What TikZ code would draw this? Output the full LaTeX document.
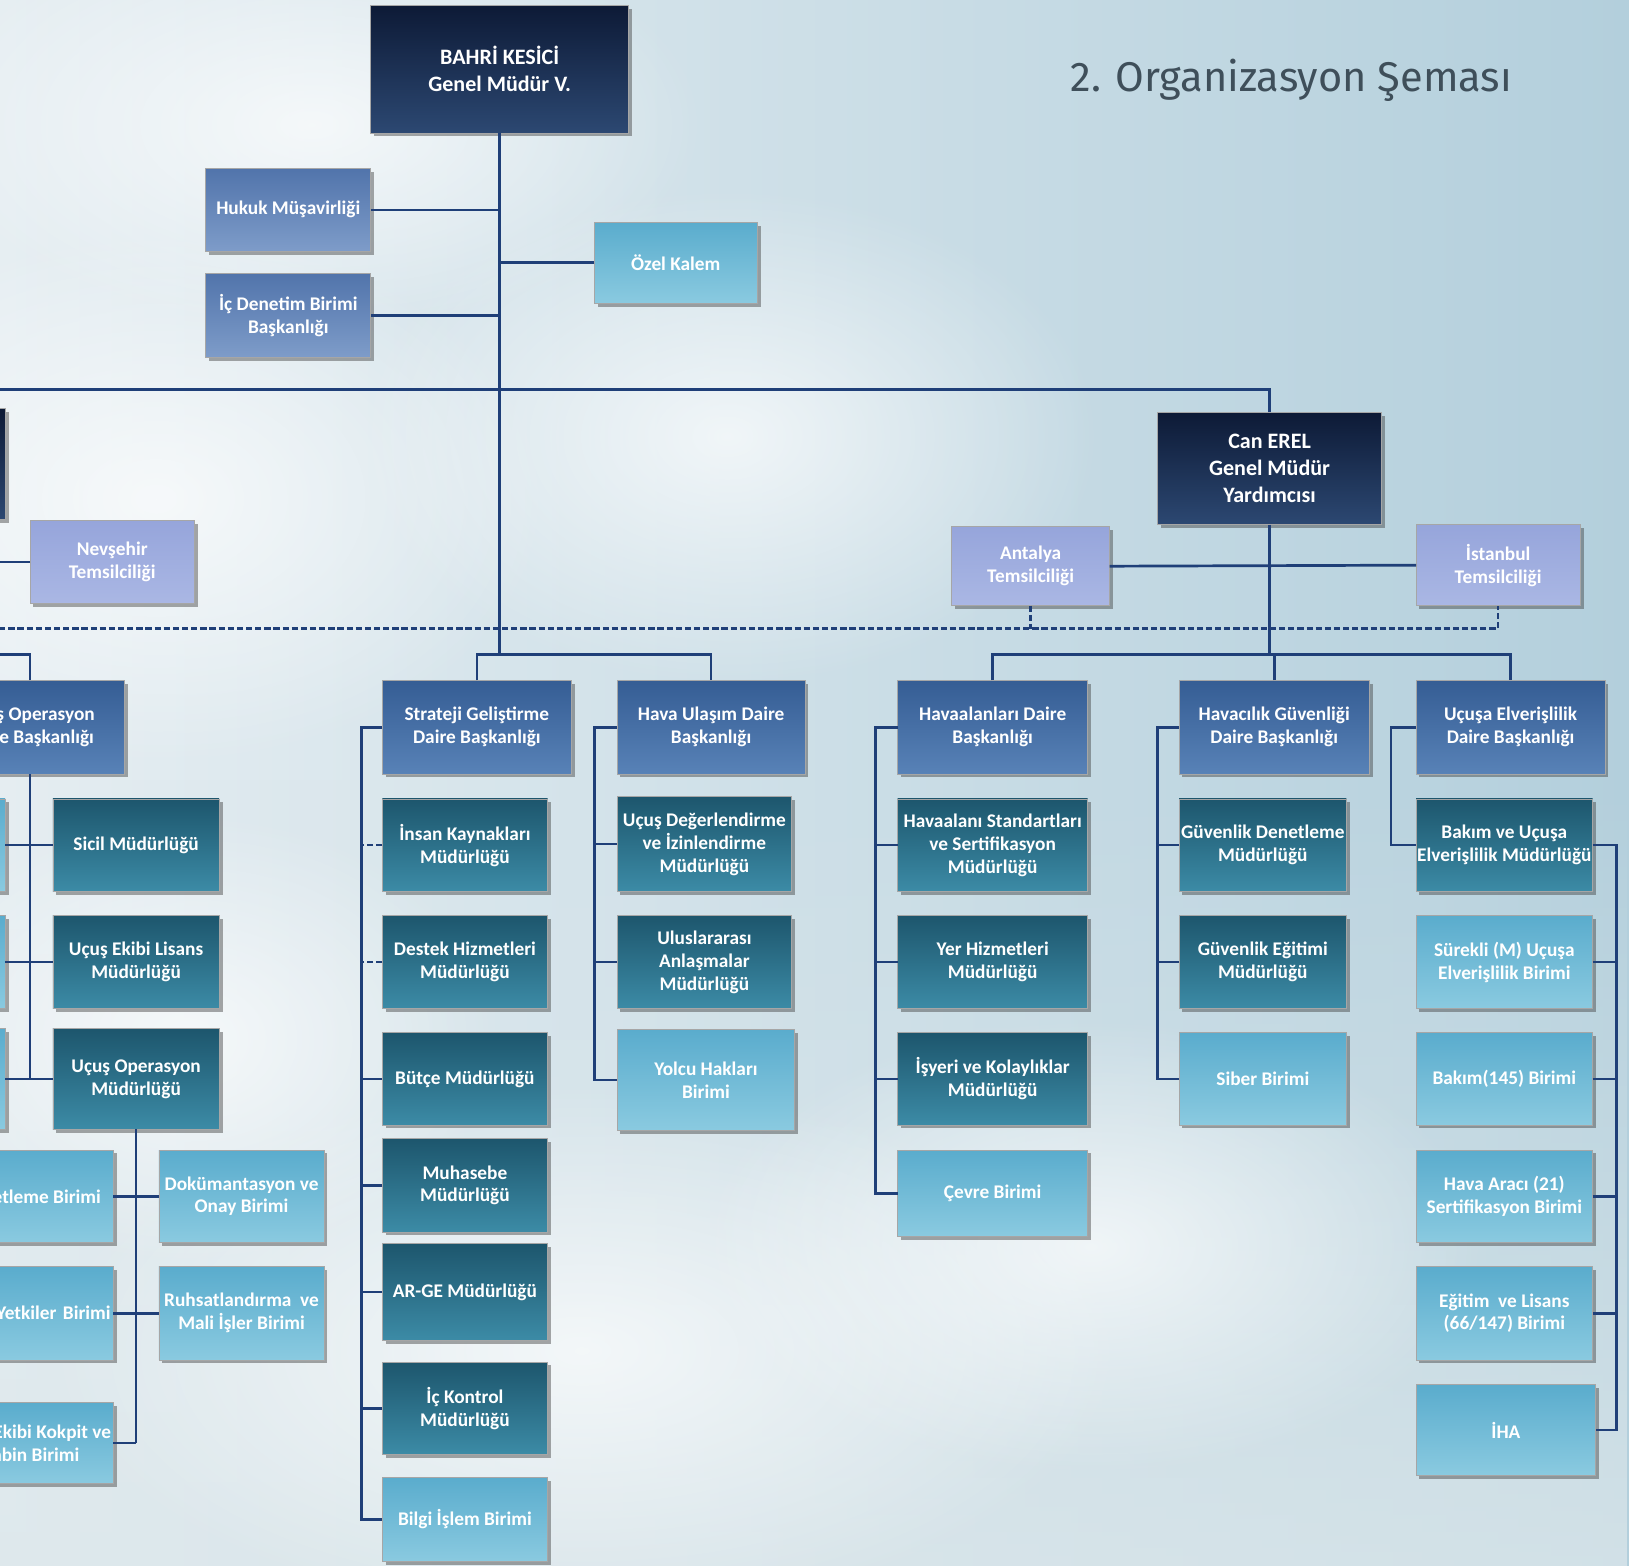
\documentclass[tikz,border=0pt]{standalone}
\usepackage{fontspec}
\setmainfont{Carlito}
\newfontfamily\titlefont{Fira Sans}
\usetikzlibrary{shadows,fadings}

\definecolor{lineblue}{HTML}{1F3F78}
\definecolor{navyT}{HTML}{0D1A36}
\definecolor{navyB}{HTML}{2C4872}
\definecolor{daireT}{HTML}{355D94}
\definecolor{daireB}{HTML}{5882B7}
\definecolor{hukT}{HTML}{5174AB}
\definecolor{hukB}{HTML}{7E9CC9}
\definecolor{mudT}{HTML}{1D566D}
\definecolor{mudB}{HTML}{3C8BA6}
\definecolor{birT}{HTML}{5AACCD}
\definecolor{birB}{HTML}{8ACAE0}
\definecolor{temT}{HTML}{96A5DB}
\definecolor{temB}{HTML}{AAB7E4}
\definecolor{bgPale}{HTML}{E6EEF2}
\definecolor{bgBlue}{HTML}{B3CFDC}
\definecolor{bgLow}{HTML}{DCE7EB}
\definecolor{titlegray}{HTML}{3F4F5A}

\tikzfading[name=softblob, inner color=transparent!0, outer color=transparent!100]
\tikzfading[name=fadeup, top color=transparent!100, bottom color=transparent!25]

\tikzset{
  basebox/.style={inner sep=0pt, outer sep=0pt, align=center, text=white,
    font=\bfseries\fontsize{9.3}{11}\selectfont, draw=black!35, line width=0.4pt,
    drop shadow={shadow xshift=1.6pt, shadow yshift=-1.6pt, opacity=0.45, fill=black!75}},
  navybox/.style={basebox, top color=navyT, bottom color=navyB, font=\bfseries\fontsize{10.6}{13}\selectfont},
  dairebox/.style={basebox, top color=daireT, bottom color=daireB},
  hukbox/.style={basebox, top color=hukT, bottom color=hukB},
  mudbox/.style={basebox, top color=mudT, bottom color=mudB},
  birbox/.style={basebox, top color=birT, bottom color=birB},
  tembox/.style={basebox, top color=temT, bottom color=temB},
  conn/.style={draw=lineblue, line width=1.3pt},
  dotconn/.style={draw=lineblue, line width=1.2pt, dash pattern=on 3pt off 1.4pt},
  cloudblob/.style={white, opacity=0.7, path fading=softblob}
}

% #1 style, #2 name, #3 x1, #4 y1, #5 x2, #6 y2, #7 text
\newcommand\orgbox[7]{%
  \node[#1, minimum width={((#5)-(#3))*0.5pt}, minimum height={((#6)-(#4))*0.5pt}]
    (#2) at ({((#3)+(#5))/2},{((#4)+(#6))/2}) {#7};}

\begin{document}
\begin{tikzpicture}[x=0.5pt,y=-0.5pt]
\useasboundingbox (0,0) rectangle (1568,1507);
% background sky
\fill[left color=bgPale, right color=bgBlue] (0,0) rectangle (1568,1507);
\fill[bgLow, path fading=fadeup] (0,750) rectangle (1568,1507);
\fill[cloudblob] (150,480) ellipse (380 and 260);
\fill[cloudblob] (700,420) ellipse (360 and 240);
\fill[cloudblob] (560,1300) ellipse (520 and 260);
\fill[cloudblob] (1050,1200) ellipse (380 and 220);
\fill[cloudblob] (180,1000) ellipse (300 and 220);
\fill[cloudblob] (300,120) ellipse (380 and 200);

% title
\node[anchor=base west, inner sep=0pt, text=titlegray, font=\titlefont\fontsize{20}{20}\selectfont] (title) at (1030,88) {2. Organizasyon Şeması};

% top level
\orgbox{navybox}{top}{357}{5}{605}{128}{BAHRİ KESİCİ\\Genel Müdür V.}
\orgbox{hukbox}{hukuk}{198}{162}{357}{242}{Hukuk Müşavirliği}
\orgbox{hukbox}{icden}{198}{263}{357}{344}{İç Denetim Birimi\\Başkanlığı}
\orgbox{birbox}{ozel}{572}{214}{729}{292}{Özel Kalem}

\orgbox{navybox}{gmyl}{-150}{393}{5}{500}{}
\orgbox{tembox}{nev}{29}{501}{187}{581}{Nevşehir\\Temsilciliği}
\orgbox{navybox}{can}{1114}{397}{1330}{505}{Can EREL\\Genel Müdür\\Yardımcısı}
\orgbox{tembox}{ant}{916}{507}{1068}{583}{Antalya\\Temsilciliği}
\orgbox{tembox}{ist}{1363}{505}{1521}{583}{İstanbul\\Temsilciliği}

% daire baskanliklari
\orgbox{dairebox}{uodb}{-62}{655}{120}{745}{Uçuş Operasyon\\Daire Başkanlığı}
\orgbox{dairebox}{strat}{368}{655}{550}{745}{Strateji Geliştirme\\Daire Başkanlığı}
\orgbox{dairebox}{hua}{594}{655}{775}{745}{Hava Ulaşım Daire\\Başkanlığı}
\orgbox{dairebox}{hvl}{864}{655}{1047}{745}{Havaalanları Daire\\Başkanlığı}
\orgbox{dairebox}{hvg}{1135}{655}{1318}{745}{Havacılık Güvenliği\\Daire Başkanlığı}
\orgbox{dairebox}{ue}{1363}{655}{1545}{745}{Uçuşa Elverişlilik\\Daire Başkanlığı}

% left column
\orgbox{birbox}{lpa}{-150}{769}{5}{858}{}
\orgbox{birbox}{lpb}{-150}{881}{5}{971}{}
\orgbox{birbox}{lpc}{-150}{990}{5}{1087}{}
\orgbox{mudbox}{sicil}{51}{769}{211}{858}{Sicil Müdürlüğü}
\orgbox{mudbox}{uel}{51}{881}{211}{971}{Uçuş Ekibi Lisans\\Müdürlüğü}
\orgbox{mudbox}{uom}{51}{990}{211}{1087}{Uçuş Operasyon\\Müdürlüğü}
\orgbox{birbox}{den}{-50}{1107}{109}{1196}{Denetleme Birimi}
\orgbox{birbox, text width=77pt, align=right}{yet}{-50}{1219}{109}{1309}{Yetkiler Birimi}
\orgbox{birbox}{kok}{-50}{1350}{109}{1428}{Uçuş Ekibi Kokpit ve\\Kabin Birimi}
\orgbox{birbox}{dok}{153}{1107}{312}{1196}{Dokümantasyon ve\\Onay Birimi}
\orgbox{birbox}{ruh}{153}{1219}{312}{1309}{Ruhsatlandırma\ \ ve\\Mali İşler Birimi}

% strateji column
\orgbox{mudbox}{ik}{368}{769}{527}{858}{İnsan Kaynakları\\Müdürlüğü}
\orgbox{mudbox}{dh}{368}{881}{527}{971}{Destek Hizmetleri\\Müdürlüğü}
\orgbox{mudbox}{bt}{368}{994}{527}{1083}{Bütçe Müdürlüğü}
\orgbox{mudbox}{mh}{368}{1096}{527}{1186}{Muhasebe\\Müdürlüğü}
\orgbox{mudbox}{ar}{368}{1197}{527}{1290}{AR-GE Müdürlüğü}
\orgbox{mudbox}{ick}{368}{1311}{527}{1400}{İç Kontrol\\Müdürlüğü}
\orgbox{birbox}{bi}{368}{1422}{527}{1503}{Bilgi İşlem Birimi}

% hava ulasim column
\orgbox{mudbox}{ud}{594}{767}{762}{858}{Uçuş Değerlendirme\\ve İzinlendirme\\Müdürlüğü}
\orgbox{mudbox}{ua}{594}{881}{762}{971}{Uluslararası\\Anlaşmalar\\Müdürlüğü}
\orgbox{birbox}{yh}{594}{991}{765}{1088}{Yolcu Hakları\\Birimi}

% havaalanlari column
\orgbox{mudbox}{hs}{864}{769}{1047}{858}{Havaalanı Standartları\\ve Sertifikasyon\\Müdürlüğü}
\orgbox{mudbox}{yhz}{864}{881}{1047}{971}{Yer Hizmetleri\\Müdürlüğü}
\orgbox{mudbox}{isk}{864}{994}{1047}{1083}{İşyeri ve Kolaylıklar\\Müdürlüğü}
\orgbox{birbox}{cv}{864}{1107}{1047}{1190}{Çevre Birimi}

% havacilik guvenligi column
\orgbox{mudbox}{gd}{1135}{769}{1296}{858}{Güvenlik Denetleme\\Müdürlüğü}
\orgbox{mudbox}{ge}{1135}{881}{1296}{971}{Güvenlik Eğitimi\\Müdürlüğü}
\orgbox{birbox}{sb}{1135}{994}{1296}{1083}{Siber Birimi}

% ucusa elverislilik column
\orgbox{mudbox}{bk}{1363}{769}{1533}{858}{Bakım ve Uçuşa\\Elverişlilik Müdürlüğü}
\orgbox{birbox}{sr}{1363}{881}{1533}{971}{Sürekli (M) Uçuşa\\Elverişlilik Birimi}
\orgbox{birbox}{bq}{1363}{994}{1533}{1083}{Bakım(145) Birimi}
\orgbox{birbox}{ha}{1363}{1107}{1533}{1196}{Hava Aracı (21)\\Sertifikasyon Birimi}
\orgbox{birbox}{egl}{1363}{1219}{1533}{1309}{Eğitim\ \ ve Lisans\\(66/147) Birimi}
\orgbox{birbox}{iha}{1363}{1333}{1536}{1420}{İHA}

% helper coordinates
\coordinate (b2) at (481,630);
\coordinate (b3) at (1222,630);
\coordinate (lbus) at (-80,630);
\coordinate (dotL) at (-80,605);
\coordinate (sx) at (348,0);
\coordinate (hx) at (572,0);
\coordinate (ax) at (843,0);
\coordinate (gx) at (1114,0);
\coordinate (ex) at (1339,0);
\coordinate (rx) at (1556,0);

% connectors: top
\draw[conn] (top.south) -- (b2);
\draw[conn] (hukuk.east) -- (hukuk.east -| top.south);
\draw[conn] (icden.east) -- (icden.east -| top.south);
\draw[conn] (ozel.west) -- (ozel.west -| top.south);
\draw[conn] (can.north) -- ++(0,-22) -| (gmyl.north);
\draw[conn] (nev.west) -- (nev.west -| gmyl.south);
\draw[conn] (can.south) -- (b3);
\draw[conn] (ant.east) -- (ist.west);
\draw[dotconn] (dotL) -| (ist.south);
\draw[dotconn] (ant.south) -- (ant.south |- dotL);

% level 2 buses
\draw[conn] (strat.north) |- (b2) -| (hua.north);
\draw[conn] (hvl.north) |- (b3) -| (ue.north);
\draw[conn] (hvg.north) -- (hvg.north |- b3);
\draw[conn] (uodb.north) |- (lbus);

% left column
\draw[conn] (uodb.south) -- (uodb.south |- uom.west);
\foreach \n in {sicil,uel,uom} \draw[conn] (\n.west) -- (\n.west -| uodb.south);
\foreach \n in {lpa,lpb,lpc} \draw[conn] (\n.east) -- (\n.east -| uodb.south);
\draw[conn] (uom.south) -- (uom.south |- kok.east);
\foreach \n in {dok,ruh} \draw[conn] (\n.west) -- (\n.west -| uom.south);
\foreach \n in {den,yet,kok} \draw[conn] (\n.east) -- (\n.east -| uom.south);

% strateji
\draw[conn] (strat.west) -| (bi.west -| sx) -- (bi.west);
\foreach \n in {bt,mh,ar,ick} \draw[conn] (\n.west) -- (\n.west -| sx);
\foreach \n in {ik,dh} \draw[dotconn] (\n.west) -- (\n.west -| sx);

% hava ulasim
\draw[conn] (hua.west) -| (yh.west -| hx) -- (yh.west);
\foreach \n in {ud,ua} \draw[conn] (\n.west) -- (\n.west -| hx);

% havaalanlari
\draw[conn] (hvl.west) -| (cv.west -| ax) -- (cv.west);
\foreach \n in {hs,yhz,isk} \draw[conn] (\n.west) -- (\n.west -| ax);

% havacilik guvenligi
\draw[conn] (hvg.west) -| (sb.west -| gx) -- (sb.west);
\foreach \n in {gd,ge} \draw[conn] (\n.west) -- (\n.west -| gx);

% ucusa elverislilik
\draw[conn] (ue.west) -| (bk.west -| ex) -- (bk.west);
\draw[conn] (bk.east) -| (iha.east -| rx) -- (iha.east);
\foreach \n in {sr,bq,ha,egl} \draw[conn] (\n.east) -- (\n.east -| rx);
\end{tikzpicture}
\end{document}
